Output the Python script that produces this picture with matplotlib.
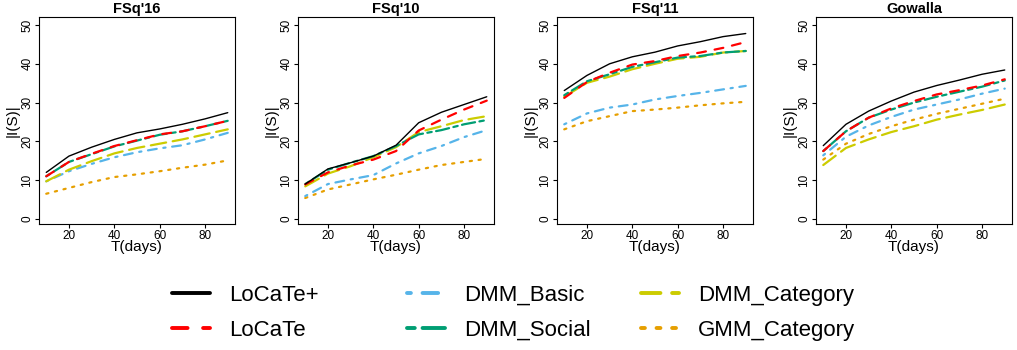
import matplotlib
matplotlib.use("Agg")
import matplotlib.pyplot as plt
from matplotlib.lines import Line2D

# ---------------- data ----------------
T = [10, 20, 30, 40, 50, 60, 70, 80, 90]
titles = ["FSq'16", "FSq'10", "FSq'11", "Gowalla"]
methods = ["LoCaTe+", "LoCaTe", "DMM_Basic", "DMM_Social", "DMM_Category", "GMM_Category"]

fsq16 = {
    "LoCaTe+":      [12.0, 16.2, 18.5, 20.5, 22.2, 23.2, 24.4, 25.8, 27.4],
    "LoCaTe":       [11.0, 14.7, 16.8, 18.8, 20.3, 21.8, 22.6, 23.9, 25.3],
    "DMM_Basic":    [9.7, 12.3, 14.2, 15.9, 17.2, 18.2, 19.0, 20.5, 22.2],
    "DMM_Social":   [11.0, 14.7, 16.7, 18.7, 20.2, 21.7, 22.6, 23.9, 25.3],
    "DMM_Category": [9.7, 12.7, 14.9, 16.9, 18.3, 19.4, 20.5, 21.8, 23.1],
    "GMM_Category": [6.5, 8.0, 9.5, 10.8, 11.5, 12.3, 13.2, 14.0, 15.1],
}
fsq10 = {
    "LoCaTe+":      [9.0, 12.9, 14.5, 16.2, 19.0, 24.8, 27.5, 29.5, 31.5],
    "LoCaTe":       [8.9, 12.0, 13.8, 15.3, 17.5, 22.8, 25.6, 28.2, 30.5],
    "DMM_Basic":    [5.9, 9.0, 10.2, 11.3, 14.3, 16.9, 18.8, 21.1, 22.9],
    "DMM_Social":   [9.0, 12.7, 14.5, 16.2, 18.8, 21.8, 22.9, 24.4, 25.5],
    "DMM_Category": [8.4, 11.7, 13.6, 15.9, 18.5, 22.4, 23.9, 25.5, 26.5],
    "GMM_Category": [5.4, 7.6, 8.9, 10.2, 11.4, 12.7, 13.9, 14.7, 15.5],
}
fsq11 = {
    "LoCaTe+":      [33.1, 37.0, 40.0, 41.8, 43.0, 44.6, 45.7, 47.0, 47.8],
    "LoCaTe":       [31.2, 35.3, 37.7, 39.8, 40.7, 42.0, 42.9, 44.1, 45.6],
    "DMM_Basic":    [24.4, 27.2, 28.7, 29.5, 30.8, 31.7, 32.5, 33.4, 34.3],
    "DMM_Social":   [31.9, 35.5, 37.3, 39.2, 40.4, 41.6, 42.0, 42.9, 43.3],
    "DMM_Category": [31.5, 35.1, 36.7, 38.6, 40.0, 41.3, 41.8, 42.9, 43.3],
    "GMM_Category": [23.1, 25.2, 26.5, 27.8, 28.2, 28.7, 29.3, 29.8, 30.2],
}
gowalla = {
    "LoCaTe+":      [18.9, 24.4, 27.8, 30.4, 32.7, 34.4, 35.8, 37.3, 38.4],
    "LoCaTe":       [17.5, 22.6, 26.1, 28.5, 30.4, 32.1, 33.2, 34.4, 36.0],
    "DMM_Basic":    [16.4, 21.2, 24.1, 26.3, 28.2, 29.5, 30.8, 32.3, 33.6],
    "DMM_Social":   [17.5, 22.6, 26.1, 28.2, 30.0, 31.5, 32.8, 34.1, 35.7],
    "DMM_Category": [13.9, 18.3, 20.5, 22.4, 23.9, 25.6, 26.9, 28.1, 29.5],
    "GMM_Category": [15.3, 19.4, 21.9, 23.9, 25.6, 27.1, 28.4, 29.7, 31.0],
}
datasets = [fsq16, fsq10, fsq11, gowalla]
xticks = [20, 40, 60, 80]
yticks = [0, 10, 20, 30, 40, 50]

# ---------------- styles ----------------
colors = {
    "LoCaTe+": "#000000",
    "LoCaTe": "#FF0000",
    "DMM_Basic": "#56B4E9",
    "DMM_Social": "#009E73",
    "DMM_Category": "#CCCC00",
    "GMM_Category": "#E69F00",
}
# R-like dash patterns (in line-width units)
styles = {
    "LoCaTe+": "-",
    "LoCaTe": (0, (4, 4)),
    "DMM_Basic": (0, (1, 3, 4, 3)),
    "DMM_Social": (0, (2, 2, 6, 2)),
    "DMM_Category": (0, (7, 3)),
    "GMM_Category": (0, (1, 3)),
}
legend_styles = dict(styles)
legend_styles["DMM_Category"] = (2, (7, 3))
widths = {m: 1.6 for m in methods}
widths["LoCaTe+"] = 1.0
draw_order = ["GMM_Category", "DMM_Basic", "DMM_Category", "DMM_Social", "LoCaTe", "LoCaTe+"]

plt.rcParams["font.family"] = ["Liberation Sans", "DejaVu Sans"]

W, H = 1017, 350
fig = plt.figure(figsize=(W / 100, H / 100), dpi=100)

box_top, box_bot = 17, 224
box_w = 196
lefts = [39, 298, 557, 816]

for k, (ds, title) in enumerate(zip(datasets, titles)):
    ax = fig.add_axes([lefts[k] / W, 1 - box_bot / H, box_w / W, (box_bot - box_top) / H])
    for m in draw_order:
        ax.plot(T, ds[m], color=colors[m], linestyle=styles[m], lw=widths[m],
                dash_capstyle="round", solid_capstyle="round")
    ax.set_xlim(6.8, 93.2)
    ax.set_ylim(-1.3, 52.06)
    ax.set_xticks(xticks)
    ax.set_yticks(yticks)
    ax.tick_params(axis="both", direction="out", length=3, width=0.8,
                   labelsize=8.5, pad=1, colors="black")
    for lab in ax.get_yticklabels():
        lab.set_rotation(90)
        lab.set_va("center")
    for s in ax.spines.values():
        s.set_linewidth(0.8)
        s.set_color("black")
    ax.set_title(title, fontsize=10.5, fontweight="bold", pad=3)
    ax.set_xlabel("T(days)", fontsize=11, labelpad=-1)
    ax.set_ylabel("|I(S)|", fontsize=11, labelpad=1)

# ---------------- legend (three columns) ----------------
cols = [["LoCaTe+", "LoCaTe"], ["DMM_Basic", "DMM_Social"], ["DMM_Category", "GMM_Category"]]
col_x = [172, 407, 641]
for cx, names in zip(col_x, cols):
    handles = [Line2D([], [], color=colors[m], linestyle=legend_styles[m], lw=2.8,
                      dash_capstyle="round", solid_capstyle="round") for m in names]
    fig.legend(handles, names, loc="upper left",
               bbox_to_anchor=(cx / W, 1 - 285 / H),
               frameon=False, borderpad=0, borderaxespad=0,
               handlelength=1.7, handletextpad=0.85, labelspacing=0.62,
               prop={"family": "Liberation Sans", "size": 16})

fig.savefig("out.png", dpi=100)
